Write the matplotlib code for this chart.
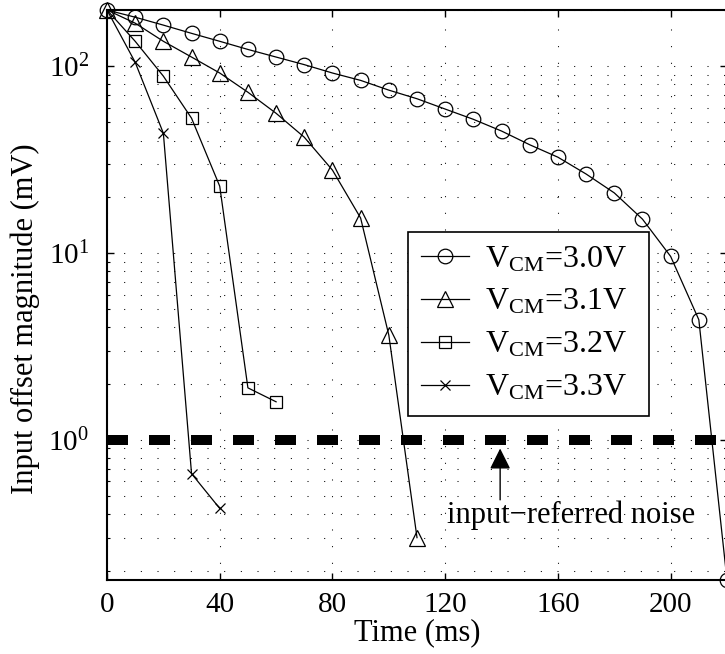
import matplotlib
matplotlib.use("Agg")
import matplotlib.pyplot as plt
from matplotlib.ticker import LogLocator, NullFormatter

plt.rcParams.update({
    'font.family': ['Liberation Serif', 'DejaVu Serif'],
    'mathtext.fontset': 'stix',
})

# ---- data (time in ms, offset in mV) ----
t_30 = [0, 10, 20, 30, 40, 50, 60, 70, 80, 90, 100, 110, 120, 130, 140,
        150, 160, 170, 180, 190, 200, 210, 220]
v_30 = [200, 183, 166, 150, 136, 123, 112, 102, 92, 84, 74.5, 67, 59, 52, 45,
        38, 32.6, 26.5, 21, 15.2, 9.6, 4.4, 0.178]
t_31 = [0, 10, 20, 30, 40, 50, 60, 70, 80, 90, 100, 110]
v_31 = [200, 170, 136, 112, 92, 72.6, 56, 41.7, 27.8, 15.4, 3.64, 0.30]
t_32 = [0, 10, 20, 30, 40, 50, 60]
v_32 = [200, 136, 88.5, 52.7, 22.8, 1.9, 1.6]
t_33 = [0, 10, 20, 30, 40]
v_33 = [200, 105, 43.8, 0.66, 0.43]

labels = [r'V$_\mathdefault{CM}$=3.0V', r'V$_\mathdefault{CM}$=3.1V',
          r'V$_\mathdefault{CM}$=3.2V', r'V$_\mathdefault{CM}$=3.3V']
noise_level = 1.0
x_ticks = [0, 40, 80, 120, 160, 200]

fig = plt.figure(figsize=(7.25, 6.54), dpi=100)
ax = fig.add_axes([107 / 725, 1 - 580 / 654, 620 / 725, 570 / 654])
ax.set_yscale('log')

line_kw = dict(color='k', lw=0.9, mfc='none', mec='k', mew=0.9, clip_on=False, zorder=4)
ax.plot(t_33, v_33, marker='x', ms=7.5, markevery=slice(1, None), label=labels[3], **line_kw)
ax.plot(t_32, v_32, marker='s', ms=8.5, markevery=slice(1, None), label=labels[2], **line_kw)
ax.plot(t_30, v_30, marker='o', ms=10.5, label=labels[0], **line_kw)
ax.plot(t_31, v_31, marker='^', ms=11, label=labels[1], **line_kw)

# input-referred noise level
ax.plot([0, 220], [noise_level, noise_level], color='k', lw=7.2,
        dashes=(2.1, 2.1), solid_capstyle='butt', zorder=3)
ax.annotate('', xy=(139.5, 0.9), xytext=(139.5, 0.478),
            arrowprops=dict(arrowstyle='-|>', color='k', lw=1.0,
                            mutation_scale=32, shrinkA=0, shrinkB=0))
ax.text(120.5, 0.36, 'input\u2212referred noise', fontsize=22,
        ha='left', va='baseline', zorder=5)

ax.set_xlim(0, 220)
ax.set_ylim(0.178, 200)
ax.set_xticks(x_ticks)
ax.yaxis.set_major_locator(LogLocator(base=10, numticks=10))
ax.yaxis.set_minor_locator(LogLocator(base=10, subs=range(2, 10), numticks=20))
ax.yaxis.set_minor_formatter(NullFormatter())

ax.tick_params(which='both', direction='in', top=True, right=True)
ax.tick_params(which='major', length=5, width=1.0, labelsize=21)
ax.tick_params(which='minor', length=2.5, width=0.8)
ax.tick_params(axis='x', which='major', pad=9)
ax.tick_params(axis='y', which='major', pad=13)

grid_kw = dict(color='k', lw=0.75, ls=(0, (1, 15)))
ax.grid(True, axis='x', which='major', **grid_kw)
ax.grid(True, axis='y', which='both', **grid_kw)
ax.set_axisbelow(True)

for sp in ax.spines.values():
    sp.set_linewidth(1.5)

ax.set_xlabel('Time (ms)', fontsize=22, va='baseline')
ax.xaxis.set_label_coords(0.5, -0.105)
ax.set_ylabel('Input offset magnitude (mV)', fontsize=22, va='center')
ax.yaxis.set_label_coords(-0.132, 0.458)

handles, labs = ax.get_legend_handles_labels()
order = [2, 3, 1, 0]
leg = ax.legend([handles[i] for i in order], [labs[i] for i in order],
                loc='upper left', bbox_to_anchor=(0.485, 0.289, 0.389, 0.322),
                mode='expand', fontsize=23,
                frameon=True, fancybox=False, edgecolor='k', framealpha=1.0,
                handlelength=1.5, handletextpad=0.5, labelspacing=0.42,
                borderpad=0.42, borderaxespad=0)
leg.get_frame().set_linewidth(1.2)
leg.set_zorder(6)

fig.savefig('out.png', dpi=100, facecolor='white')
